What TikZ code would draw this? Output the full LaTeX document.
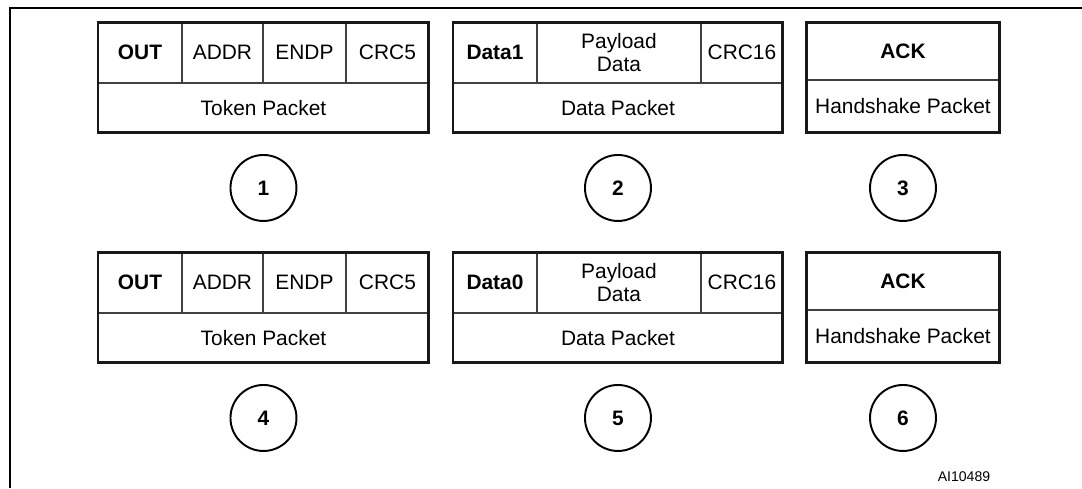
\documentclass[tikz,border=0pt]{standalone}
\usepackage{fontspec}
\setmainfont{Liberation Sans}
\usetikzlibrary{positioning}

\begin{document}
\begin{tikzpicture}[
    x=0.02cm, y=-0.02cm,
    hdr/.style={rectangle, draw=black!75, line width=0.7pt, inner sep=0pt, outer sep=0pt,
        minimum height=1.22cm, align=center, font=\fontsize{11.9}{13.6}\selectfont},
    ptype/.style={hdr, minimum height=1.0cm},
    outline/.style={draw=black!90, line width=1.7pt},
    num/.style={circle, draw, line width=1.1pt, minimum size=1.32cm, inner sep=0pt, outer sep=0pt,
        font=\bfseries\fontsize{11.9}{13.6}\selectfont},
    tag/.style={font=\fontsize{8}{9}\selectfont},
    frame/.style={line width=1.6pt}
]
    \useasboundingbox (0,0) rectangle (1082,488);
    \draw[frame] (10,488) -- (10,8) -- (1082,8);

    \foreach \r/\y/\dat/\na/\nb/\nc in {1/22/Data1/1/2/3, 2/252/Data0/4/5/6} {
        % token packet
        \node[hdr, minimum width=1.68cm, anchor=north west] (out\r) at (98,\y) {\textbf{OUT}};
        \node[hdr, minimum width=1.62cm, right=0pt of out\r] (addr\r) {ADDR};
        \node[hdr, minimum width=1.66cm, right=0pt of addr\r] (endp\r) {ENDP};
        \node[hdr, minimum width=1.66cm, right=0pt of endp\r] (crcf\r) {CRC5};
        \node[ptype, minimum width=6.62cm, anchor=north west] (tok\r) at (out\r.south west) {Token Packet};
        \draw[outline] (out\r.north west) rectangle (tok\r.south east);

        % data packet
        \node[hdr, minimum width=1.68cm, anchor=north west] (pid\r) at (453,\y) {\textbf{\dat}};
        \node[hdr, minimum width=3.28cm, right=0pt of pid\r] (load\r) {Payload\\Data};
        \node[hdr, minimum width=1.64cm, right=0pt of load\r] (crcs\r) {CRC16};
        \node[ptype, minimum width=6.60cm, anchor=north west] (dat\r) at (pid\r.south west) {Data Packet};
        \draw[outline] (pid\r.north west) rectangle (dat\r.south east);

        % handshake packet
        \node[hdr, minimum width=3.88cm, minimum height=1.16cm, anchor=north west] (ack\r) at (806,\y) {\textbf{ACK}};
        \node[ptype, minimum width=3.88cm, minimum height=1.06cm, anchor=north west] (hs\r) at (ack\r.south west) {Handshake Packet};
        \draw[outline] (ack\r.north west) rectangle (hs\r.south east);

        % step numbers
        \node[num, below=0.44cm of tok\r] (n\na) {\na};
        \node[num, below=0.44cm of dat\r] (n\nb) {\nb};
        \node[num, below=0.44cm of hs\r] (n\nc) {\nc};
    }

    \node[tag] (code) at (964,477) {AI10489};
\end{tikzpicture}
\end{document}
